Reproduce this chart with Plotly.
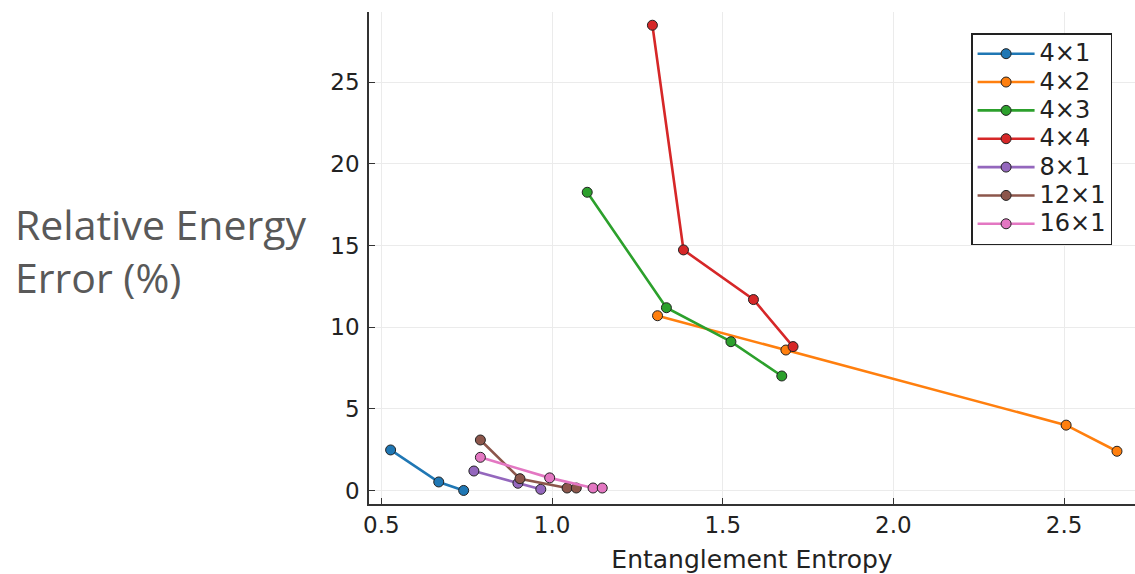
import plotly.graph_objects as go

# ---- data ----
names = ["4×1", "4×2", "4×3", "4×4", "8×1", "12×1", "16×1"]
colors = ["#1f77b4", "#ff7f0e", "#2ca02c", "#d62728", "#9467bd", "#8c564b", "#e377c2"]

x_4x1 = [0.527, 0.668, 0.741]
y_4x1 = [2.48, 0.52, 0.0]
x_4x2 = [1.309, 1.685, 2.506, 2.655]
y_4x2 = [10.70, 8.60, 4.00, 2.40]
x_4x3 = [1.103, 1.335, 1.524, 1.673]
y_4x3 = [18.26, 11.19, 9.11, 7.01]
x_4x4 = [1.294, 1.385, 1.590, 1.706]
y_4x4 = [28.49, 14.73, 11.69, 8.81]
x_8x1 = [0.771, 0.900, 0.967]
y_8x1 = [1.19, 0.44, 0.07]
x_12x1 = [0.790, 0.906, 1.044, 1.071]
y_12x1 = [3.09, 0.72, 0.15, 0.15]
x_16x1 = [0.790, 0.993, 1.120, 1.147]
y_16x1 = [2.03, 0.77, 0.15, 0.15]

xs = [x_4x1, x_4x2, x_4x3, x_4x4, x_8x1, x_12x1, x_16x1]
ys = [y_4x1, y_4x2, y_4x3, y_4x4, y_8x1, y_12x1, y_16x1]

x_ticks = [0.5, 1.0, 1.5, 2.0, 2.5]
x_ticklabels = ["0.5", "1.0", "1.5", "2.0", "2.5"]
y_ticks = [0, 5, 10, 15, 20, 25]
y_ticklabels = ["0", "5", "10", "15", "20", "25"]

fig = go.Figure()
for n, c, xv, yv in zip(names, colors, xs, ys):
    fig.add_trace(go.Scatter(
        x=xv, y=yv, mode="lines+markers",
        name='<span style="font-size:24px">' + n + '</span>',
        line=dict(color=c, width=2.6),
        marker=dict(color=c, size=10, line=dict(color="#222222", width=1)),
    ))

axis_common = dict(
    showline=True, linecolor="#333333", linewidth=1.5,
    showgrid=True, gridcolor="#ebebeb", gridwidth=1,
    ticks="inside", ticklen=6, tickcolor="#333333", tickwidth=1,
    zeroline=False, mirror=False,
    tickfont=dict(family="DejaVu Sans", size=23, color="#222222"),
)

fig.update_layout(
    width=1135, height=574,
    margin=dict(l=369, r=0, t=12, b=70),
    paper_bgcolor="white", plot_bgcolor="white",
    xaxis=dict(range=[0.4637, 2.7078], tickvals=x_ticks, ticktext=x_ticklabels,
               title=dict(text="Entanglement Entropy",
                          font=dict(family="DejaVu Sans", size=25, color="#222222"),
                          standoff=13),
               **axis_common),
    yaxis=dict(range=[-0.83, 29.3], tickvals=y_ticks, ticktext=y_ticklabels,
               ticklabelstandoff=3, **axis_common),
    legend=dict(x=0.786, y=(504 - 33) / 492, xanchor="left", yanchor="top",
                bgcolor="white", bordercolor="#222222", borderwidth=1.5,
                font=dict(family="DejaVu Sans", size=19.5, color="#222222"),
                itemwidth=57, tracegroupgap=0),
    showlegend=True,
)

fig.add_annotation(text="Relative Energy<br>Error (%)", xref="paper", yref="paper",
                   x=(13 - 369) / 766, y=(504 - 250) / 492,
                   xanchor="left", yanchor="middle", align="left", showarrow=False,
                   font=dict(family="Open Sans", size=41, color="#595959"))

fig.write_html("out.html")
